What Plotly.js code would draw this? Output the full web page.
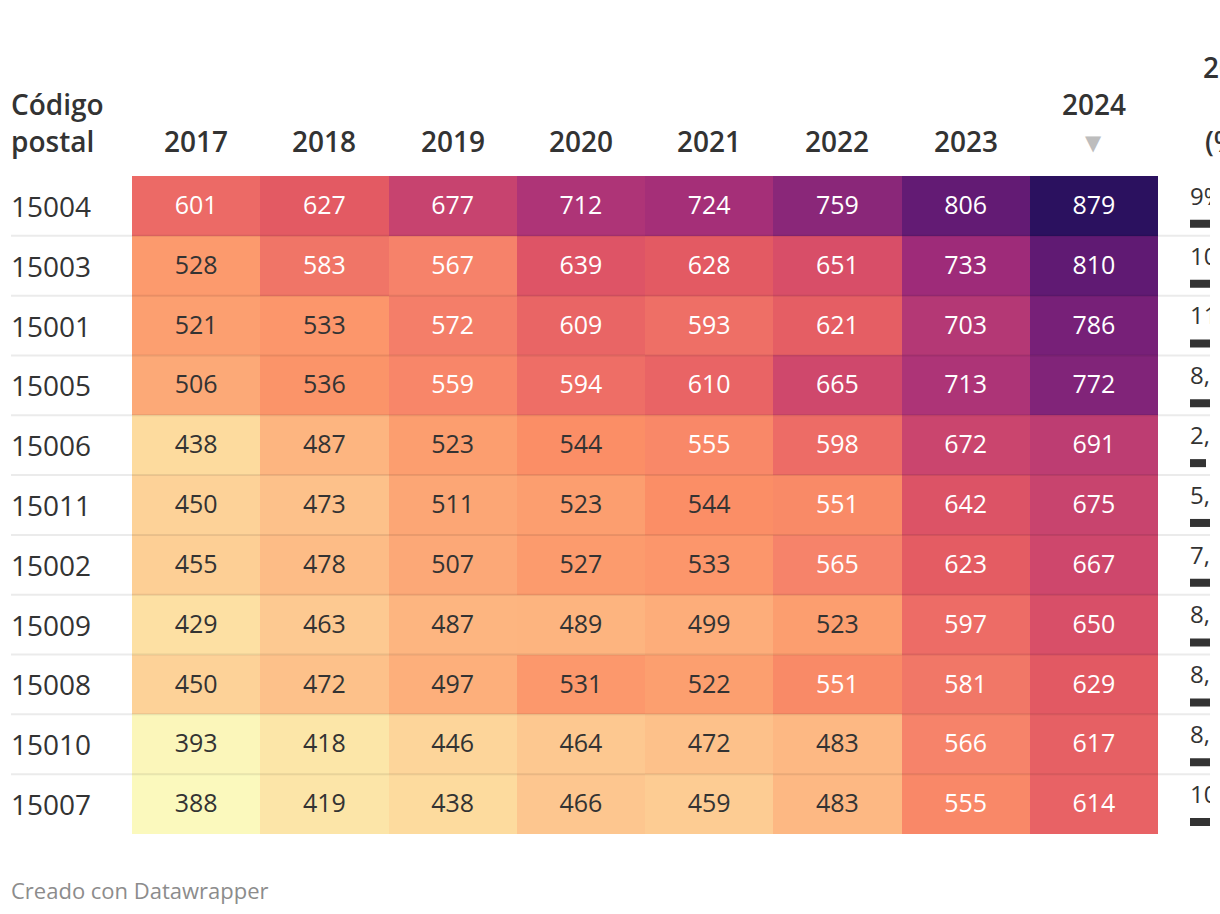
<!DOCTYPE html>
<html>
<head>
<meta charset="utf-8">
<script src="https://cdn.plot.ly/plotly-3.0.1.min.js"></script>
<style>
html,body{margin:0;padding:0;background:#fff;overflow:hidden;}
#chart{width:1220px;height:914px;}
</style>
</head>
<body>
<div id="chart"></div>
<script>
// ---- data ----
const codes = ['15004','15003','15001','15005','15006','15011','15002','15009','15008','15010','15007'];
const years = ['2017','2018','2019','2020','2021','2022','2023','2024'];
const v2017 = [601,528,521,506,438,450,455,429,450,393,388];
const v2018 = [627,583,533,536,487,473,478,463,472,418,419];
const v2019 = [677,567,572,559,523,511,507,487,497,446,438];
const v2020 = [712,639,609,594,544,523,527,489,531,464,466];
const v2021 = [724,628,593,610,555,544,533,499,522,472,459];
const v2022 = [759,651,621,665,598,551,565,523,551,483,483];
const v2023 = [806,733,703,713,672,642,623,597,581,566,555];
const v2024 = [879,810,786,772,691,675,667,650,629,617,614];
// change 2023-2024 (%), right column (cut off in the original)
const change = [9.0,10.5,11.8,8.3,2.8,5.1,7.1,8.9,8.3,8.9,10.6];

const cols = [v2017,v2018,v2019,v2020,v2021,v2022,v2023,v2024];
const z = codes.map((c,i)=>cols.map(col=>col[i]));

const W = 1220, H = 914;
const pTop = 176, pBot = 834;
const yp = p => (pBot - p)/(pBot - pTop);
const xp = p => p / W;

const zmin = 388, zmax = 879;
const stops = [
  [388,'#fbf9bd'],[418,'#fce6a8'],[438,'#fddb9e'],[464,'#fdc890'],[487,'#fdb580'],
  [523,'#fc9e6f'],[544,'#fb8e66'],[567,'#f6826a'],[583,'#f07567'],[601,'#ec6a66'],
  [627,'#e35a63'],[651,'#d84e68'],[677,'#c7436f'],[712,'#ae3477'],[733,'#9e2b79'],
  [759,'#8a2779'],[786,'#772078'],[806,'#631b74'],[879,'#2b115f']
];
const colorscale = stops.map(s=>[(s[0]-zmin)/(zmax-zmin), s[1]]);

const heat = {
  type:'heatmap', x:years, y:codes, z:z, zmin:zmin, zmax:zmax,
  colorscale:colorscale, showscale:false, hoverinfo:'skip', xaxis:'x', yaxis:'y'
};

const tx=[], ty=[], tt=[], tc=[];
codes.forEach((c,i)=>years.forEach((yr,j)=>{
  const v = cols[j][i];
  tx.push(j); ty.push(i + 0.03); tt.push(String(v));
  tc.push(v >= 548 ? '#ffffff' : '#333333');
}));
const cellText = {
  type:'scatter', mode:'text', x:tx, y:ty, text:tt,
  textfont:{family:'Open Sans', size:25, color:tc},
  hoverinfo:'skip', xaxis:'x3', yaxis:'y2', showlegend:false
};

const idx = codes.map((c,i)=>i);
const fmt = v => (Math.round(v*10)/10).toFixed(1).replace('.',',').replace(/,0$/,'') + '%';
const bars = {
  type:'bar', orientation:'h', x:change, y:idx.map(i=>i+0.30), width:0.134,
  marker:{color:'#333333'}, hoverinfo:'skip', xaxis:'x2', yaxis:'y2', showlegend:false
};
const pctText = {
  type:'scatter', mode:'text', x:change.map(()=>0), y:idx.map(i=>i-0.12),
  text:change.map(fmt), textposition:'middle right', cliponaxis:true,
  textfont:{family:'Open Sans', size:24, color:'#333333'},
  hoverinfo:'skip', xaxis:'x2', yaxis:'y2', showlegend:false
};

const hdrFont = {family:'Open Sans', size:28, color:'#333333', weight:600};
const ann = [];
codes.forEach((c,i)=>ann.push({
  xref:'paper', yref:'y2', x:xp(9), y:i, xanchor:'left', yanchor:'middle',
  text:c, showarrow:false, font:{family:'Open Sans', size:28, color:'#333333'}
}));
ann.push({xref:'paper', yref:'paper', x:xp(9), y:yp(104), xanchor:'left', yanchor:'middle',
  text:'Código', showarrow:false, font:hdrFont});
ann.push({xref:'paper', yref:'paper', x:xp(9), y:yp(141), xanchor:'left', yanchor:'middle',
  text:'postal', showarrow:false, font:hdrFont});
years.forEach((yr,j)=>{
  const isLast = j === years.length-1;
  ann.push({xref:'x3', yref:'paper', x:j, y:yp(isLast?104:141), xanchor:'center', yanchor:'middle',
    text:yr, showarrow:false, font:hdrFont});
});
ann.push({xref:'x3', yref:'paper', x:years.length-1, y:yp(143), xanchor:'center', yanchor:'middle',
  text:'▼', showarrow:false, font:{family:'DejaVu Sans', size:21, color:'#bdbdbd'}});
ann.push({xref:'paper', yref:'paper', x:xp(1201), y:yp(67), xanchor:'left', yanchor:'middle',
  text:'2023-2024', showarrow:false, font:hdrFont});
ann.push({xref:'paper', yref:'paper', x:xp(1203), y:yp(141), xanchor:'left', yanchor:'middle',
  text:'(%)', showarrow:false, font:hdrFont});
ann.push({xref:'paper', yref:'paper', x:xp(9), y:yp(890), xanchor:'left', yanchor:'middle',
  text:'Creado con Datawrapper', showarrow:false, font:{family:'Open Sans', size:22, color:'#8c8c8c'}});

const shapes = [];
for (let i=0;i<codes.length-1;i++){
  shapes.push({type:'line', xref:'paper', yref:'y2', x0:xp(11), x1:xp(1210), y0:i+0.5, y1:i+0.5,
    line:{color:'rgba(0,0,0,0.08)', width:2}, layer:'above'});
}

const layout = {
  width:W, height:H, margin:{l:0,r:0,t:pTop,b:H-pBot,pad:0},
  paper_bgcolor:'#ffffff', plot_bgcolor:'rgba(0,0,0,0)',
  showlegend:false, font:{family:'Open Sans', color:'#333333'},
  xaxis:{type:'category', domain:[xp(132), xp(1158)], range:[-0.5,7.5], visible:false, fixedrange:true},
  yaxis:{type:'category', categoryorder:'array', categoryarray:codes, range:[10.5,-0.5], visible:false, fixedrange:true},
  xaxis2:{domain:[xp(1190), xp(1210)], range:[0,3.5], anchor:'y2', visible:false, fixedrange:true},
  yaxis2:{domain:[0,1], range:[10.5,-0.5], anchor:'x2', visible:false, fixedrange:true},
  xaxis3:{domain:[xp(132), xp(1158)], range:[-0.5,7.5], anchor:'y2', visible:false, fixedrange:true},
  annotations:ann, shapes:shapes
};

Plotly.newPlot('chart', [heat, cellText, bars, pctText], layout, {staticPlot:true, displayModeBar:false});
</script>
</body>
</html>
